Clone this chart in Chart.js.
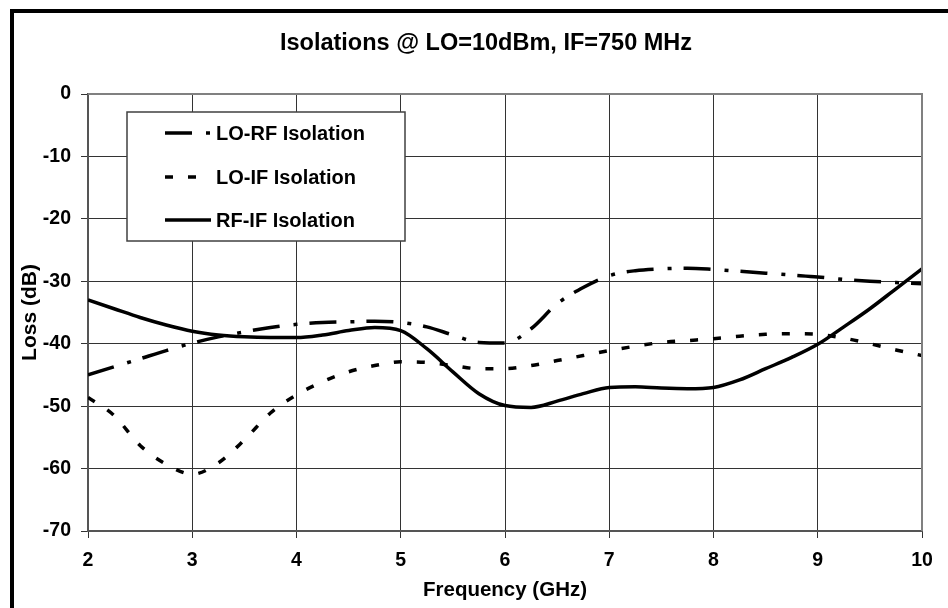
<!DOCTYPE html>
<html>
<head>
<meta charset="utf-8">
<script src="https://cdn.jsdelivr.net/npm/chart.js@4.4.1/dist/chart.umd.min.js"></script>
<style>
  html, body { margin: 0; padding: 0; background: #fff; }
  #wrap { position: relative; width: 948px; height: 608px; }
</style>
</head>
<body>
<div id="wrap"><canvas id="grafico" width="948" height="608"></canvas></div>
<script>
// Dados
const frequencias = [2, 2.25, 2.5, 2.75, 3, 3.25, 3.5, 3.75, 4, 4.25, 4.5, 4.75, 5, 5.25, 5.5, 5.75,
  6, 6.25, 6.5, 6.75, 7, 7.25, 7.5, 7.75, 8, 8.25, 8.5, 8.75, 9, 9.25, 9.5, 9.75, 10];

const loRf = [-45.0, -43.7, -42.4, -41.1, -39.9, -38.9, -38.1, -37.4, -36.9, -36.6, -36.5, -36.4, -36.6, -37.3, -38.6, -39.8,
  -39.9, -37.6, -33.6, -31.0, -29.1, -28.3, -28.0, -27.9, -28.1, -28.4, -28.7, -29.0, -29.3, -29.7, -30.0, -30.2, -30.4];

const loIf = [-48.6, -51.5, -56.3, -59.3, -60.9, -59.1, -55.4, -51.1, -48.2, -46.1, -44.5, -43.5, -42.9, -43.0, -43.5, -44.0,
  -44.0, -43.5, -42.7, -41.9, -41.1, -40.4, -39.8, -39.5, -39.2, -38.8, -38.5, -38.4, -38.5, -39.1, -40.0, -41.0, -41.9];

const rfIf = [-33.0, -34.4, -35.8, -37.0, -38.0, -38.6, -38.9, -39.0, -39.0, -38.6, -37.9, -37.4, -37.9, -40.8, -44.5, -48.0,
  -49.9, -50.2, -49.2, -48.0, -47.0, -46.9, -47.1, -47.2, -47.0, -45.8, -44.0, -42.2, -40.1, -37.3, -34.4, -31.2, -28.0];

const nomesSeries = ['LO-RF Isolation', 'LO-IF Isolation', 'RF-IF Isolation'];
const titulo = 'Isolations @ LO=10dBm, IF=750 MHz';
const tituloX = 'Frequency (GHz)';
const tituloY = 'Loss (dB)';

const FONTE = '"Liberation Sans", Arial, sans-serif';

function pontos(valores) {
  return frequencias.map((f, i) => ({ x: f, y: valores[i] }));
}

// Título, moldura e legenda desenhados à mão
const extras = {
  id: 'extras',
  beforeDraw(chart) {
    const ctx = chart.ctx;
    ctx.save();
    ctx.fillStyle = '#fff';
    ctx.fillRect(0, 0, chart.width, chart.height);
    ctx.restore();
  },
  afterDatasetsDraw(chart) {
    const ctx = chart.ctx;
    const a = chart.chartArea;
    ctx.save();
    // borda da área do gráfico
    ctx.strokeStyle = '#808080';
    ctx.lineWidth = 2;
    ctx.beginPath();
    ctx.moveTo(a.left, a.top);
    ctx.lineTo(a.right, a.top);
    ctx.lineTo(a.right, a.bottom);
    ctx.stroke();

    // moldura externa
    ctx.strokeStyle = '#000';
    ctx.lineWidth = 4;
    ctx.beginPath();
    ctx.moveTo(12, chart.height + 5);
    ctx.lineTo(12, 11);
    ctx.lineTo(chart.width + 5, 11);
    ctx.stroke();

    // título
    ctx.fillStyle = '#000';
    ctx.font = 'bold 23.5px ' + FONTE;
    ctx.textAlign = 'center';
    ctx.textBaseline = 'middle';
    ctx.fillText(titulo, 486, 44);

    // legenda
    ctx.fillStyle = '#fff';
    ctx.fillRect(127, 112, 278, 129);
    ctx.strokeStyle = '#404040';
    ctx.lineWidth = 1.5;
    ctx.strokeRect(127, 112, 278, 129);
    const linhas = [133, 177, 220];
    chart.data.datasets.forEach((ds, i) => {
      const y = linhas[i];
      ctx.strokeStyle = ds.borderColor;
      ctx.lineWidth = ds.borderWidth;
      ctx.lineCap = 'butt';
      ctx.setLineDash(ds.borderDash || []);
      ctx.beginPath();
      ctx.moveTo(165, y);
      ctx.lineTo(211, y);
      ctx.stroke();
      ctx.setLineDash([]);
      ctx.fillStyle = '#000';
      ctx.font = 'bold 20px ' + FONTE;
      ctx.textAlign = 'left';
      ctx.textBaseline = 'middle';
      ctx.fillText(ds.label, 216, y + 1);
    });
    ctx.restore();
  }
};

const ctx = document.getElementById('grafico').getContext('2d');
new Chart(ctx, {
  type: 'line',
  data: {
    datasets: [
      {
        label: nomesSeries[0],
        data: pontos(loRf),
        borderColor: '#000',
        borderWidth: 3.5,
        borderDash: [27, 14, 4, 12],
        pointRadius: 0,
        fill: false,
        cubicInterpolationMode: 'monotone'
      },
      {
        label: nomesSeries[1],
        data: pontos(loIf),
        borderColor: '#000',
        borderWidth: 3.5,
        borderDash: [8, 15],
        pointRadius: 0,
        fill: false,
        cubicInterpolationMode: 'monotone'
      },
      {
        label: nomesSeries[2],
        data: pontos(rfIf),
        borderColor: '#000',
        borderWidth: 3.5,
        pointRadius: 0,
        fill: false,
        cubicInterpolationMode: 'monotone'
      }
    ]
  },
  options: {
    responsive: false,
    animation: false,
    devicePixelRatio: 1,
    layout: {
      padding: { left: 0, top: 94, right: 26, bottom: 0 }
    },
    plugins: {
      legend: { display: false },
      tooltip: { enabled: false },
      title: { display: false }
    },
    scales: {
      x: {
        type: 'linear',
        min: 2,
        max: 10,
        afterFit(scale) { scale.height = 77; },
        ticks: {
          stepSize: 1,
          color: '#000',
          padding: 11,
          font: { family: FONTE, size: 19.5, weight: 'bold' }
        },
        grid: { color: '#333', lineWidth: 1, tickLength: 7 },
        border: { color: '#555', width: 2 },
        title: {
          display: true,
          text: tituloX,
          color: '#000',
          padding: { top: 0, bottom: 5 },
          font: { family: FONTE, size: 20.5, weight: 'bold' }
        }
      },
      y: {
        min: -70,
        max: 0,
        afterFit(scale) { scale.width = 88; },
        ticks: {
          stepSize: 10,
          color: '#000',
          padding: 10,
          font: { family: FONTE, size: 19.5, weight: 'bold' }
        },
        grid: { color: '#333', lineWidth: 1, tickLength: 7 },
        border: { color: '#555', width: 2 },
        title: {
          display: true,
          text: tituloY,
          color: '#000',
          padding: { top: 18, bottom: 0 },
          font: { family: FONTE, size: 21, weight: 'bold' }
        }
      }
    }
  },
  plugins: [extras]
});
</script>
</body>
</html>
